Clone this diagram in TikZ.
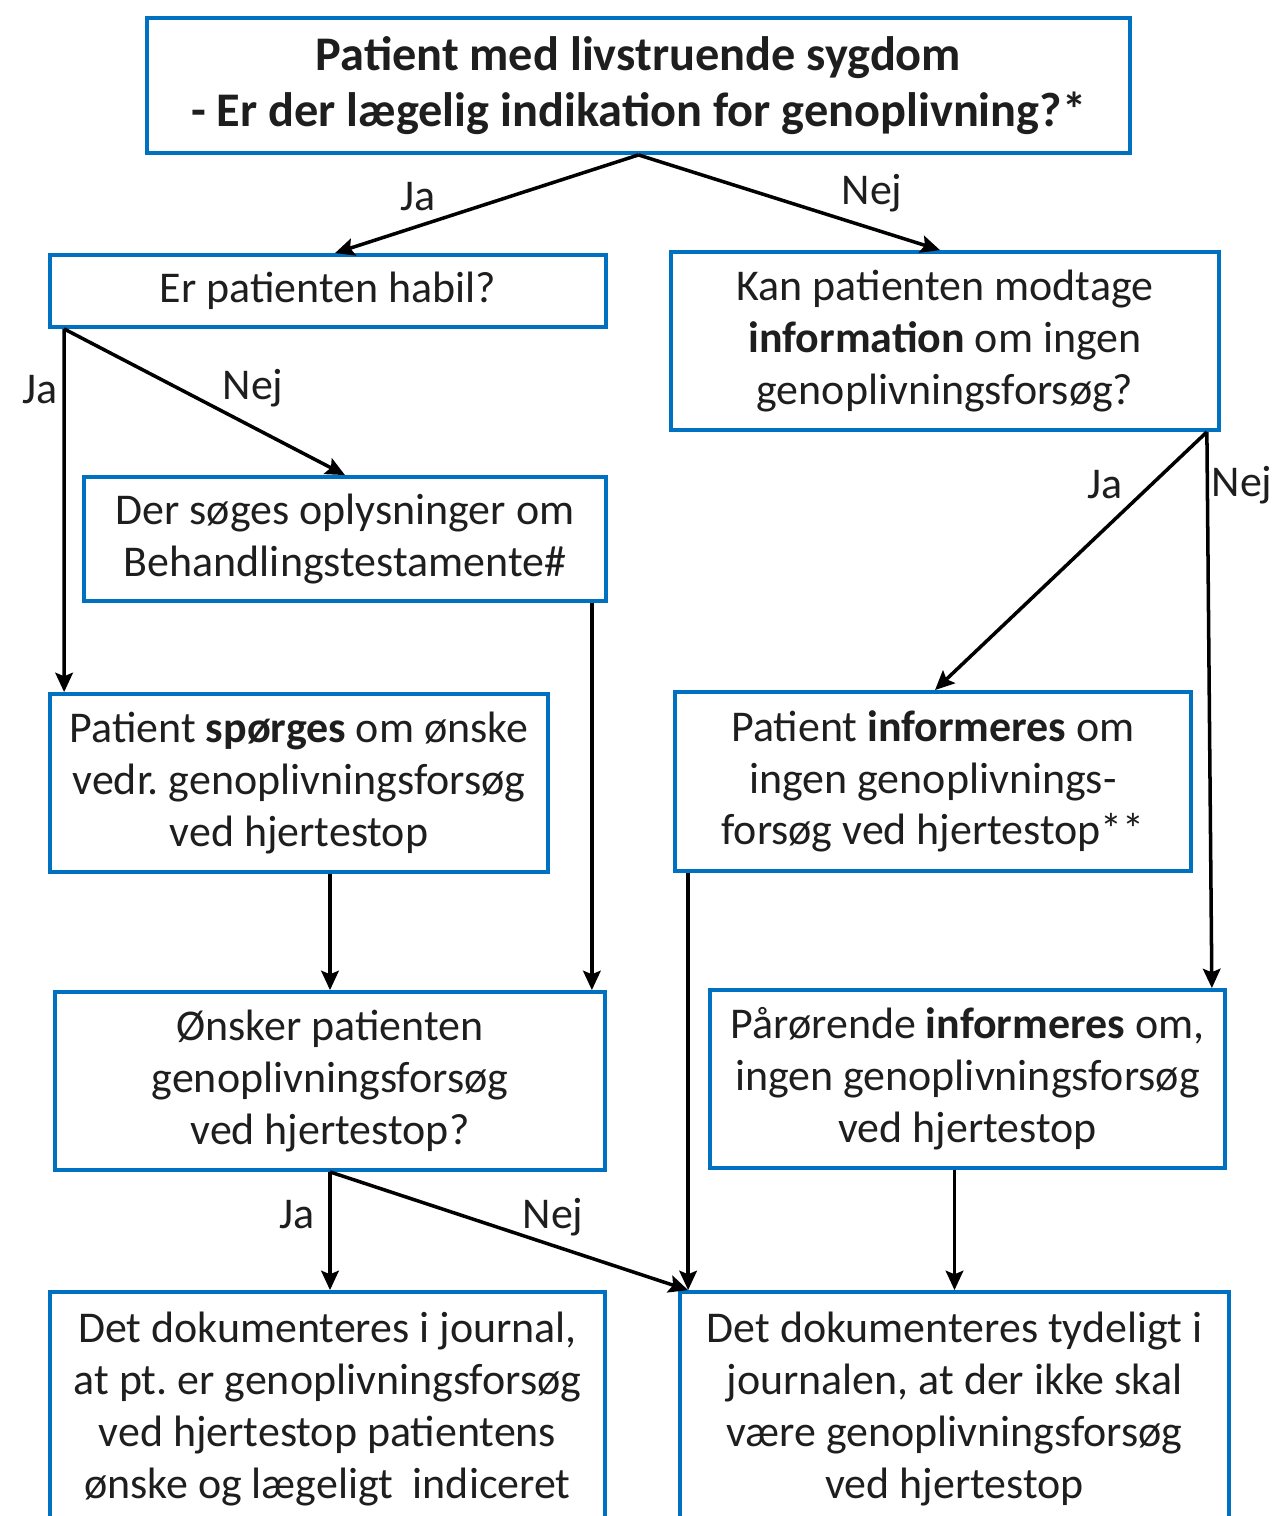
\documentclass[tikz,border=0pt]{standalone}
\usepackage{fontspec}
\setmainfont{Carlito}
\usetikzlibrary{arrows.meta}
\definecolor{boxblue}{RGB}{0,112,192}
\definecolor{txt}{RGB}{30,30,30}
\frenchspacing

\begin{document}
\begin{tikzpicture}[x=0.02cm, y=-0.02cm,
    box/.style={draw=boxblue, line width=2.2pt, inner sep=0pt, align=center, text=txt,
                font=\fontsize{25}{29.5}\selectfont},
    lbl/.style={text=txt, inner sep=0pt, font=\fontsize{25}{29.5}\selectfont},
    arr/.style={-{Stealth[length=11pt,width=10pt,inset=2pt]}, line width=2pt}]
\useasboundingbox (0,0) rectangle (1275,1516);
\clip (0,0) rectangle (1275,1516);

% boxes
\node[box, minimum width=19.66cm, minimum height=2.70cm, font=\fontsize{27.5}{32.3}\selectfont\bfseries] (top) at (638.5,85.5)
    {Patient med livstruende sygdom\\- Er der lægelig indikation for genoplivning?*};
\node[box, minimum width=11.12cm, minimum height=1.44cm] (habil) at (328,291) {Er patienten habil?};
\node[box, minimum width=10.96cm, minimum height=3.56cm] (kan) at (945,341)
    {Kan patienten modtage\\\textbf{information} om ingen\\genoplivningsforsøg?};
\node[box, minimum width=10.44cm, minimum height=2.48cm] (soeg) at (345,539)
    {Der søges oplysninger om\\Behandlingstestamente\#};
\node[box, minimum width=9.96cm, minimum height=3.56cm] (spoerg) at (299,783)
    {Patient \textbf{spørges} om ønske\\vedr. genoplivningsforsøg\\ved hjertestop};
\node[box, minimum width=10.32cm, minimum height=3.58cm] (inform) at (933,781.5)
    {Patient \textbf{informeres} om\\ingen genoplivnings-\\forsøg ved hjertestop**};
\node[box, minimum width=11.00cm, minimum height=3.56cm] (onsker) at (330,1081)
    {Ønsker patienten\\genoplivningsforsøg\\ved hjertestop?};
\node[box, minimum width=10.30cm, minimum height=3.56cm] (paar) at (967.5,1079)
    {Pårørende \textbf{informeres} om,\\ingen genoplivningsforsøg\\ved hjertestop};
\node[box, minimum width=11.10cm, minimum height=4.68cm] (dokL) at (327.5,1409)
    {Det dokumenteres i journal,\\at pt. er genoplivningsforsøg\\ved hjertestop patientens\\ønske og lægeligt\ \ indiceret};
\node[box, minimum width=10.98cm, minimum height=4.68cm] (dokR) at (954.5,1409)
    {Det dokumenteres tydeligt i\\journalen, at der ikke skal\\være genoplivningsforsøg\\ved hjertestop};

\coordinate (meet) at ([xshift=0.2cm]dokR.north west);

% connectors
\draw[arr] (top.south) -- ([xshift=0.14cm]habil.north);
\draw[arr] (top.south) -- ([xshift=-0.1cm]kan.north);
\draw[arr] ([xshift=0.32cm]habil.south west) -- ([xshift=0.32cm]spoerg.north west);
\draw[arr] ([xshift=0.32cm]habil.south west) -- (soeg.north);
\draw[arr] ([xshift=-0.32cm]soeg.south east) -- ([xshift=-0.32cm]soeg.south east |- onsker.north);
\draw[arr] (onsker.north |- spoerg.south) -- (onsker.north);
\draw[arr] ([xshift=-0.28cm]kan.south east) -- ([xshift=0.04cm]inform.north);
\draw[arr] ([xshift=-0.28cm]kan.south east) -- ([xshift=-0.3cm]paar.north east);
\draw[arr] (meet |- inform.south) -- (meet);
\draw[arr] (onsker.south) -- (onsker.south |- dokL.north);
\draw[arr] (onsker.south) -- (meet);
\draw[arr] (dokR.north |- paar.south) -- (dokR.north);

% labels
\node[lbl] (ja1) at (418,197) {Ja};
\node[lbl] (nej1) at (872,193) {Nej};
\node[lbl] (ja2) at (40,390) {Ja};
\node[lbl] (nej2) at (253,388) {Nej};
\node[lbl] (ja3) at (1105,485) {Ja};
\node[lbl] (nej3) at (1242,485) {Nej};
\node[lbl] (ja4) at (297,1215) {Ja};
\node[lbl] (nej4) at (553,1217) {Nej};
\end{tikzpicture}
\end{document}
